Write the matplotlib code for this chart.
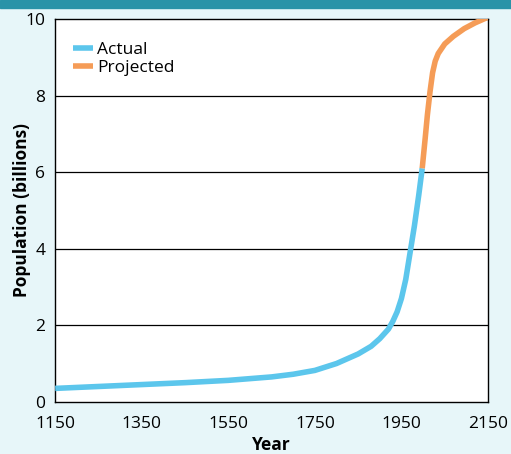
import numpy as np
import matplotlib.pyplot as plt
from matplotlib.patches import Rectangle

plt.rcParams['font.family'] = ['Open Sans', 'DejaVu Sans']

# population (billions)
years_actual = [1150, 1250, 1350, 1450, 1550, 1650, 1700, 1750, 1800, 1850, 1880,
                1900, 1920, 1930, 1940, 1950, 1960, 1970, 1980, 1990, 1998]
pop_actual = [0.35, 0.40, 0.45, 0.50, 0.56, 0.65, 0.72, 0.82, 1.0, 1.25, 1.45,
              1.65, 1.9, 2.1, 2.35, 2.7, 3.2, 3.9, 4.6, 5.4, 6.1]
years_proj = [1998, 2005, 2010, 2016, 2022, 2028, 2035, 2050, 2070, 2095, 2120, 2150]
pop_proj = [6.1, 6.9, 7.5, 8.1, 8.6, 8.9, 9.1, 9.35, 9.55, 9.75, 9.9, 10.05]

xticks = [1150, 1350, 1550, 1750, 1950, 2150]
yticks = [0, 2, 4, 6, 8, 10]

fig = plt.figure(figsize=(5.11, 4.54), dpi=100, facecolor='#e7f6f9')
fig.patches.append(Rectangle((0, 0.982), 1, 0.018, transform=fig.transFigure,
                             color='#2a93a8', zorder=0))
ax = fig.add_axes([0.108, 0.115, 0.847, 0.843])

ax.plot(years_actual, pop_actual, color='#5cc6ec', lw=4, solid_capstyle='butt',
        label='Actual', zorder=3)
ax.plot(years_proj, pop_proj, color='#f59c57', lw=4, solid_capstyle='butt',
        label='Projected', zorder=3)

ax.set_xlim(1150, 2150)
ax.set_ylim(0, 10)
ax.set_xticks(xticks)
ax.set_yticks(yticks)
ax.tick_params(length=0, labelsize=12.5)
ax.tick_params(axis='x', pad=10)
ax.tick_params(axis='y', pad=7)
for s in ax.spines.values():
    s.set_color('black')
    s.set_linewidth(1)
for v in [2, 4, 6, 8]:
    ax.axhline(v, color='black', lw=0.9, zorder=1)

ax.set_xlabel('Year', fontsize=12.5, fontweight='bold', labelpad=3)
ax.set_ylabel('Population (billions)', fontsize=12.5, fontweight='bold', labelpad=-4)

ax.legend(loc='upper left', frameon=False, fontsize=12.5, handlelength=1.2,
          handletextpad=0.2, labelspacing=0.1, borderaxespad=0.6,
          bbox_to_anchor=(0.0, 0.985))

fig.savefig('out.png', dpi=100, facecolor=fig.get_facecolor())
